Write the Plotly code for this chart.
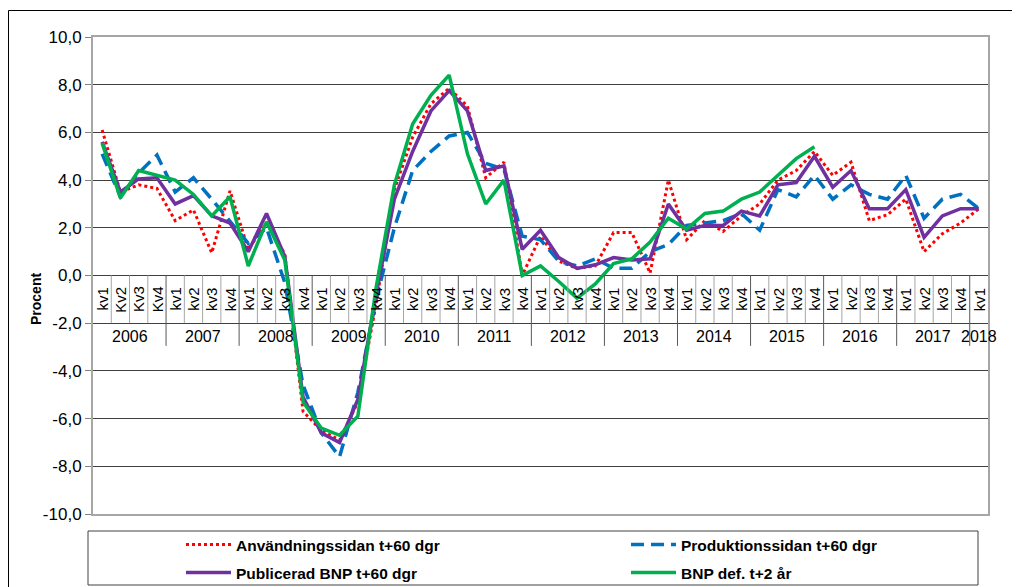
import plotly.graph_objects as go

# ---------------- data ----------------
year_labels = ["2006", "2007", "2008", "2009", "2010", "2011", "2012",
               "2013", "2014", "2015", "2016", "2017", "2018"]
quarter_labels = (["kv1", "Kv2", "Kv3", "Kv4"]
                  + ["kv1", "kv2", "kv3", "kv4"] * 11
                  + ["kv1"])
categories = [f"{year_labels[i // 4]} {q}" for i, q in enumerate(quarter_labels)]

y_tick_values = [-10, -8, -6, -4, -2, 0, 2, 4, 6, 8, 10]
y_tick_labels = ["-10,0", "-8,0", "-6,0", "-4,0", "-2,0", "0,0",
                 "2,0", "4,0", "6,0", "8,0", "10,0"]

anvandning = [6.1, 3.5, 3.8, 3.65, 2.3, 2.75, 0.95, 3.55, 1.1, 2.2, 0.9, -5.7,
              -6.5, -6.9, -5.3, -1.2, 3.6, 5.8, 7.2, 7.85, 7.1, 4.1, 4.75, 0.0,
              1.65, 0.6, 0.3, 0.4, 1.8, 1.8, 0.1, 4.0, 1.5, 2.3, 1.85, 2.5,
              3.0, 4.0, 4.4, 5.2, 4.2, 4.75, 2.3, 2.55, 3.2, 1.0, 1.75, 2.2, 2.8]
produktion = [5.1, 3.3, 4.3, 5.05, 3.5, 4.1, 3.2, 2.3, 1.35, 2.0, -0.3, -4.6,
              -6.6, -7.6, -4.9, -1.0, 2.0, 4.4, 5.2, 5.85, 6.0, 4.7, 4.45, 1.65,
              1.5, 0.6, 0.4, 0.7, 0.3, 0.3, 1.0, 1.3, 2.1, 2.2, 2.3, 2.6,
              1.9, 3.6, 3.3, 4.2, 3.2, 3.8, 3.4, 3.2, 4.2, 2.4, 3.2, 3.4, 2.8]
publicerad = [5.6, 3.5, 4.05, 4.1, 3.0, 3.35, 2.5, 2.2, 1.0, 2.6, 0.8, -5.1,
              -6.6, -7.0, -5.2, -0.8, 3.2, 5.2, 6.9, 7.75, 6.9, 4.4, 4.6, 1.1,
              1.9, 0.75, 0.3, 0.45, 0.75, 0.65, 0.7, 3.0, 1.9, 2.1, 2.1, 2.7,
              2.5, 3.8, 3.9, 5.0, 3.7, 4.4, 2.8, 2.8, 3.6, 1.6, 2.5, 2.8, 2.8]
bnp_def = [5.55, 3.25, 4.4, 4.2, 4.0, 3.4, 2.5, 3.3, 0.4, 2.25, 0.65, -5.3,
           -6.4, -6.7, -5.9, -0.5, 3.8, 6.35, 7.55, 8.4, 5.1, 3.0, 4.0, 0.0,
           0.4, -0.25, -0.95, -0.35, 0.5, 0.7, 1.4, 2.4, 1.95, 2.6, 2.7, 3.2,
           3.5, 4.2, 4.9, 5.4, None, None, None, None, None, None, None, None, None]

series_names = ["Användningssidan t+60 dgr", "Produktionssidan t+60 dgr",
                "Publicerad BNP t+60 dgr", "BNP def. t+2 år"]

FONT = "Liberation Sans, Arial, sans-serif"

# ---------------- figure ----------------
fig = go.Figure()
fig.add_trace(go.Scatter(x=categories, y=anvandning, mode="lines", name=series_names[0],
                         line=dict(color="#FF0000", width=3, dash="3px,3px"), legend="legend"))
fig.add_trace(go.Scatter(x=categories, y=produktion, mode="lines", name=series_names[1],
                         line=dict(color="#0070C0", width=3.5, dash="13px,7px"), legend="legend2"))
fig.add_trace(go.Scatter(x=categories, y=publicerad, mode="lines", name=series_names[2],
                         line=dict(color="#7030A0", width=3.5), legend="legend3"))
fig.add_trace(go.Scatter(x=categories, y=bnp_def, mode="lines", name=series_names[3],
                         line=dict(color="#00B050", width=3.5), legend="legend4"))

# the page body adds an 8px offset; figure coordinates compensate for it
OFF = 8
W, H = 1012, 579
ML, MT = 93 - OFF, 37 - OFF
PW, PH = 895, 477
MR, MB = W - ML - PW, H - MT - PH


def px_x(px):
    return (px - OFF - ML) / PW


def px_y(py):
    return (H - MB - (py - OFF)) / PH


annotations = []
shapes = []
n = len(categories)
for i, q in enumerate(quarter_labels):
    annotations.append(dict(x=i, y=-1.0, xref="x", yref="y", text=q, showarrow=False,
                            textangle=-90, font=dict(family=FONT, size=15, color="black"),
                            xanchor="center", yanchor="middle"))
    if i > 0:
        is_year = (i % 4 == 0)
        shapes.append(dict(type="line", xref="x", yref="y", x0=i - 0.5, x1=i - 0.5,
                           y0=0, y1=-2.95 if is_year else -2,
                           line=dict(color="#595959" if is_year else "#a6a6a6", width=1)))
for k, yl in enumerate(year_labels):
    xc = 4 * k + 1.5 if 4 * k + 3 < n else 4 * k
    annotations.append(dict(x=xc, y=-2.56, xref="x", yref="y", text=yl, showarrow=False,
                            font=dict(family=FONT, size=16, color="black"),
                            xanchor="center", yanchor="middle"))

annotations.append(dict(x=px_x(36), y=px_y(299), xref="paper", yref="paper", text="<b>Procent</b>",
                        showarrow=False, textangle=-90, font=dict(family=FONT, size=14, color="black"),
                        xanchor="center", yanchor="middle"))

# legend frame and outer chart frame
shapes.append(dict(type="rect", xref="paper", yref="paper", x0=px_x(88), x1=px_x(978),
                   y0=px_y(531), y1=px_y(585), line=dict(color="#404040", width=1),
                   fillcolor="rgba(0,0,0,0)", layer="below"))
shapes.append(dict(type="rect", xref="paper", yref="paper", x0=px_x(8.5), x1=px_x(1040),
                   y0=px_y(10.5), y1=px_y(620), line=dict(color="black", width=1),
                   fillcolor="rgba(0,0,0,0)", layer="below"))

leg_font = dict(family=FONT, size=15.5, color="black", weight="bold")


def leg(xp, yp):
    return dict(orientation="h", x=px_x(xp), y=px_y(yp), xanchor="left", yanchor="middle",
                bgcolor="rgba(0,0,0,0)", font=leg_font, itemwidth=45)


fig.update_layout(
    width=W, height=H,
    margin=dict(l=ML, r=MR, t=MT, b=MB, autoexpand=False),
    paper_bgcolor="white", plot_bgcolor="white",
    xaxis=dict(type="category", range=[-0.5, n - 0.5], showticklabels=False, showgrid=False,
               zeroline=False, showline=True, mirror=True, linecolor="#a6a6a6", linewidth=2,
               ticks=""),
    yaxis=dict(range=[-10, 10], tickmode="array", tickvals=y_tick_values, ticktext=y_tick_labels,
               showgrid=True, gridcolor="#404040", gridwidth=1, zeroline=True,
               zerolinecolor="#404040", zerolinewidth=1, showline=True, mirror=True,
               linecolor="#a6a6a6", linewidth=2,
               ticks="outside", ticklen=6, tickcolor="#808080",
               tickfont=dict(family=FONT, size=17, color="black")),
    legend=leg(181, 545),
    legend2=leg(626, 545),
    legend3=leg(181, 573),
    legend4=leg(626, 573),
    annotations=annotations,
    shapes=shapes,
    showlegend=True,
)

fig.write_html("out.html")
